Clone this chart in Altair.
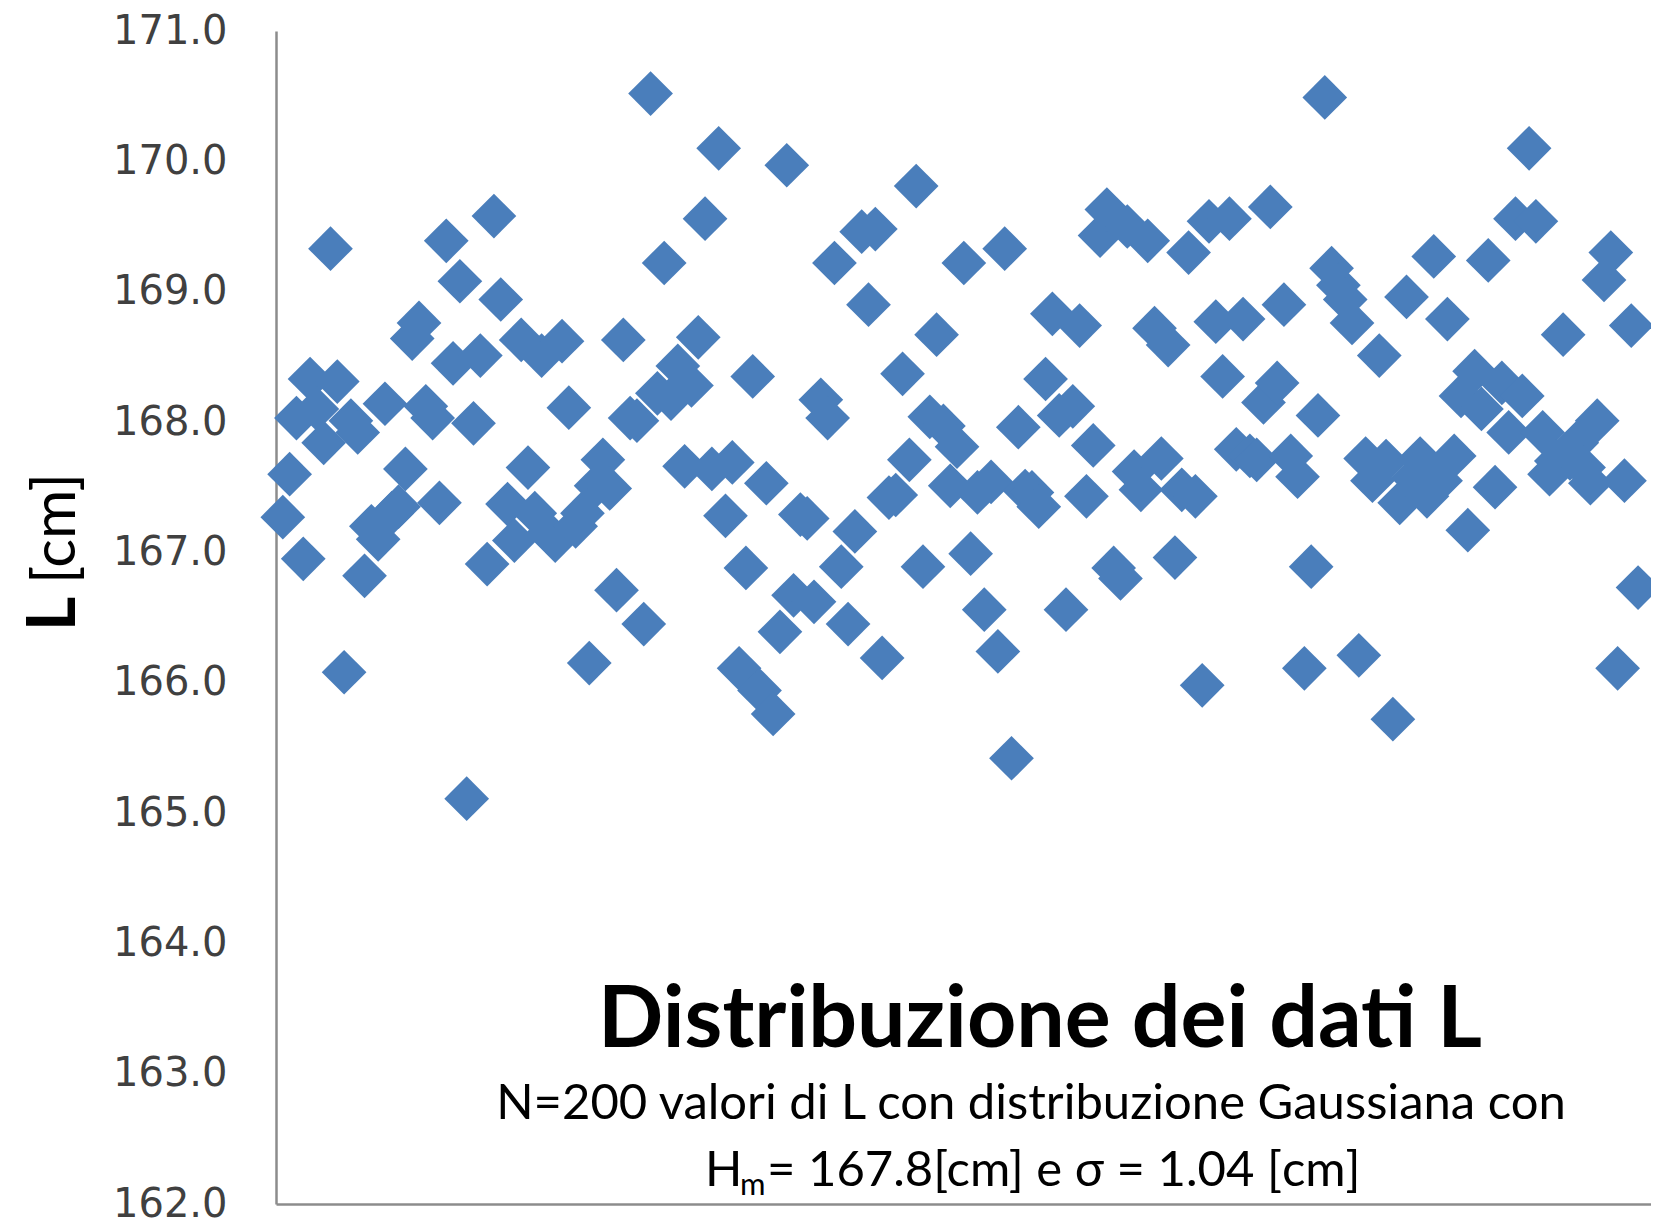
import altair as alt
import pandas as pd

# ---- data ----
measurement = list(range(1, 201))
L_cm = [
    167.27, 167.60, 168.03, 166.95, 168.33, 168.10, 167.84, 169.33, 168.31, 166.08,
    168.01, 167.92, 166.82, 167.20, 167.10, 168.14, 167.30, 167.35, 167.64, 168.64,
    168.76, 168.12, 168.03, 167.38, 169.39, 168.45, 169.08, 165.11, 167.99, 168.51,
    166.91, 169.58, 168.94, 167.37, 167.09, 168.63, 167.65, 167.30, 168.51, 167.15,
    167.09, 168.62, 168.11, 167.20, 167.30, 166.15, 167.51, 167.71, 167.49, 166.71,
    168.63, 168.03, 168.01, 166.45, 170.52, 168.22, 169.22, 168.18, 168.43, 167.66,
    168.28, 168.65, 169.56, 167.64, 170.10, 167.28, 167.69, 166.11, 166.88, 168.35,
    165.94, 167.53, 165.76, 166.39, 169.97, 166.67, 167.29, 167.26, 166.62, 168.17,
    168.03, 169.22, 166.89, 166.45, 167.16, 169.46, 168.90, 169.48, 166.19, 167.42,
    167.44, 168.37, 167.71, 169.81, 166.89, 168.04, 168.67, 167.97, 167.51, 167.81,
    169.22, 166.99, 167.46, 166.56, 167.54, 166.24, 169.33, 165.42, 167.96, 167.47,
    167.46, 167.35, 168.33, 168.83, 168.05, 166.56, 168.12, 168.74, 167.43, 167.82,
    169.43, 169.63, 166.88, 166.80, 169.50, 167.62, 167.48, 169.39, 168.72, 167.72,
    168.59, 166.96, 167.48, 169.30, 167.43, 165.98, 169.54, 168.77, 168.35, 169.56,
    167.79, 168.79, 167.74, 167.71, 168.15, 169.65, 168.30, 168.90, 167.74, 167.58,
    166.11, 166.89, 168.05, 170.49, 169.18, 169.05, 168.94, 168.76, 166.21, 167.72,
    167.55, 168.51, 167.70, 165.72, 167.38, 168.96, 167.57, 167.72, 167.43, 169.27,
    167.55, 168.79, 167.74, 168.20, 167.17, 168.39, 168.10, 169.24, 167.50, 168.30,
    167.92, 169.56, 168.20, 170.10, 169.54, 167.92, 167.60, 167.70, 168.67, 167.72,
    167.84, 167.65, 167.53, 168.01, 169.09, 169.30, 166.11, 167.55, 168.74, 166.73,
]
y_ticks = [162, 163, 164, 165, 166, 167, 168, 169, 170, 171]

title_text = ["Distribuzione dei dati L"]
subtitle_line1 = ["N=200 valori di L con distribuzione Gaussiana con"]
line2_H = ["H"]
line2_sub = ["m"]
line2_rest = ["= 167.8[cm] e \u03c3 = 1.04 [cm]"]
ytitle_bold = ["L"]
ytitle_rest = ["[cm]"]

df = pd.DataFrame({"n": measurement, "L": L_cm})

W, H = 1375, 1173
BLUE = "#4a7ebb"
AXIS_GRAY = "#8c8c8c"

points = alt.Chart(df).mark_point(
    shape="diamond", filled=True, size=2000, color=BLUE, opacity=1
).encode(
    x=alt.X("n:Q",
            scale=alt.Scale(domain=[0, 201.9], nice=False, zero=False),
            axis=alt.Axis(labels=False, ticks=False, grid=False, title=None,
                          domainColor=AXIS_GRAY, domainWidth=2.5)),
    y=alt.Y("L:Q",
            scale=alt.Scale(domain=[162, 171], nice=False, zero=False),
            axis=alt.Axis(values=y_ticks, format=".1f", ticks=False, grid=False,
                          title=None, labelFont="DejaVu Sans", labelFontSize=40,
                          labelColor="#404040", labelPadding=49,
                          domainColor=AXIS_GRAY, domainWidth=2.5)),
)


def txt(values, x, y, size, weight="normal", align="center", angle=0):
    kw = dict(font="Lato", fontSize=size, fontWeight=weight, align=align,
              baseline="alphabetic", color="#000000")
    if angle:
        kw["angle"] = angle
    return alt.Chart(pd.DataFrame({"t": values})).mark_text(**kw).encode(
        text="t:N", x=alt.value(x), y=alt.value(y))


title = txt(title_text, 764, 1016, 86, weight="bold")
sub1 = txt(subtitle_line1, 755, 1088, 49)
sub2a = txt(line2_H, 429, 1155, 49, align="left")
sub2b = txt(line2_sub, 464, 1164, 31, align="left")
sub2c = txt(line2_rest, 491, 1155, 49, align="left")
yt1 = txt(ytitle_bold, -201, 600, 66, weight="bold", align="left", angle=270)
yt2 = txt(ytitle_rest, -201, 553, 60, align="left", angle=270)

chart = alt.layer(points, title, sub1, sub2a, sub2b, sub2c, yt1, yt2).properties(
    width=W, height=H,
    padding={"left": 268, "top": 23, "right": 0, "bottom": 18},
    autosize=alt.AutoSizeParams(type="none"),
).configure_view(strokeWidth=0)

chart.save("out.html", embed_options={"renderer": "svg", "actions": False})
